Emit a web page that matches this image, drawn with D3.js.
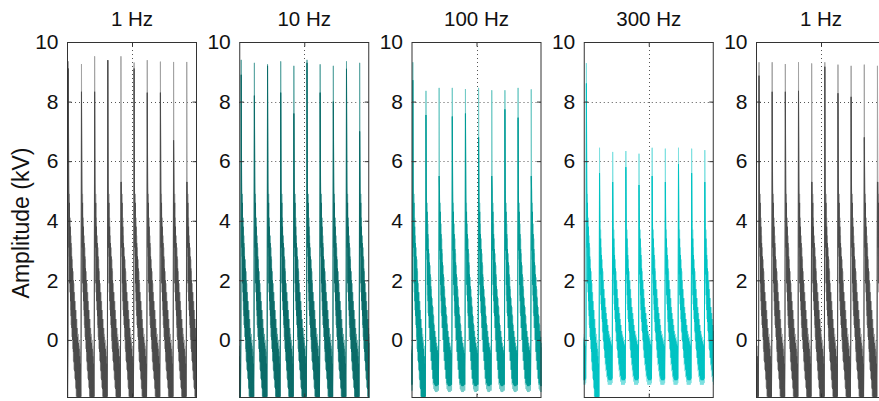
<!DOCTYPE html>
<html><head><meta charset="utf-8">
<script src="https://cdn.jsdelivr.net/npm/d3@7"></script>
<style>body{margin:0;background:#fff}svg{display:block}</style>
</head><body>
<svg id="c" width="879" height="401"></svg>
<script>
// ---------------- data ----------------
const titles = ["1 Hz", "10 Hz", "100 Hz", "300 Hz", "1 Hz"];
const yTickValues = [0, 2, 4, 6, 8, 10];
const yLabel = "Amplitude (kV)";
// pulse phase (in periods) of the first spike in each panel
const phase = [0.1, 0.15, 0.1, 0.2, 0.23];

// spike peak values (kV): light (background) trace and dark (foreground) trace
const peaksLight1   = [9.35, 9.26, 9.52, 9.39, 9.52, 9.31, 9.39, 9.34, 9.33, 9.33];
const peaksDark1    = [9.11, 8.33, 8.33, 9.39, 5.30, 9.11, 8.30, 8.30, 6.70, 5.30];
const peaksLight10  = [9.40, 9.30, 9.25, 9.35, 9.20, 9.40, 9.25, 9.20, 9.35, 9.30];
const peaksDark10   = [8.90, 8.20, 9.20, 8.30, 7.60, 9.30, 8.30, 8.00, 9.10, 7.00];
const peaksLight100 = [9.32, 8.36, 8.46, 8.46, 8.42, 8.46, 8.38, 8.38, 8.46, 8.41];
const peaksDark100  = [8.72, 7.55, 5.50, 7.50, 7.60, 6.80, 5.50, 7.74, 7.46, 5.50];
const peaksLight300 = [9.29, 6.45, 6.31, 6.34, 6.25, 6.45, 6.42, 6.45, 6.42, 6.37];
const peaksDark300  = [8.61, 5.60, 5.30, 5.80, 5.20, 5.50, 5.30, 5.90, 5.60, 5.30];
const peaksLight1b  = [9.32, 9.32, 9.26, 9.32, 9.28, 9.32, 9.24, 9.20, 9.24, 9.20];
const peaksDark1b   = [8.87, 8.33, 8.33, 8.36, 5.30, 9.17, 8.28, 8.16, 6.80, 5.30];

const tailDark1 = [5.3, 3.1, 4.6, 1.9, 3.8, 1.3, 3.25, 0.8, 2.8, 0.4, 2.4, 0.0, 2.0, -0.4, 1.6, -0.75, 1.3, -1.05,
  1.0, -1.35, 0.7, -1.65, 0.4, -1.9, 0.1, -1.95, -0.1, -1.95, -0.3, -1.95, -0.55, -1.95, -0.8, -1.9, 0.05];
const tailLight1 = [5.4, 2.8, 4.9, 1.6, 4.1, 1.0, 3.5, 0.5, 3.1, 0.1, 2.7, -0.3, 2.3, -0.7, 1.9, -1.0, 1.6, -1.3,
  1.3, -1.6, 1.0, -1.9, 0.7, -2.0, 0.4, -2.0, 0.2, -2.0, 0.0, -2.0, -0.2, -2.0, -0.4, -2.0, 0.2];
const tailDark100 = [5.0, 3.0, 4.3, 1.85, 3.55, 1.3, 3.05, 0.8, 2.6, 0.4, 2.2, 0.0, 1.8, -0.4, 1.45, -0.7, 1.15, -1.0,
  0.85, -1.3, 0.55, -1.45, 0.3, -1.5, 0.1, -1.55, -0.1, -1.55, -0.25, -1.55, -0.35, -1.5, -0.45, -1.5, 0.05];
const tailLight100 = [5.2, 2.7, 4.6, 1.5, 3.9, 0.9, 3.4, 0.4, 2.9, 0.0, 2.5, -0.4, 2.1, -0.7, 1.7, -1.0, 1.4, -1.3,
  1.1, -1.5, 0.8, -1.65, 0.5, -1.7, 0.3, -1.75, 0.1, -1.75, -0.1, -1.75, -0.2, -1.7, -0.3, -1.7, 0.2];
const tailDark300 = [3.8, 2.2, 3.4, 1.5, 2.85, 1.0, 2.4, 0.6, 2.0, 0.25, 1.7, -0.05, 1.4, -0.35, 1.1, -0.6, 0.9, -0.8,
  0.7, -1.0, 0.5, -1.2, 0.3, -1.3, 0.15, -1.35, 0.05, -1.35, -0.05, -1.35, -0.15, -1.35, -0.2, -1.3, 0.05];
const tailLight300 = [4.0, 1.9, 3.7, 1.2, 3.1, 0.7, 2.7, 0.3, 2.3, 0.0, 2.0, -0.3, 1.7, -0.6, 1.4, -0.85, 1.1, -1.05,
  0.9, -1.25, 0.7, -1.4, 0.5, -1.5, 0.3, -1.5, 0.2, -1.5, 0.1, -1.5, 0.0, -1.5, -0.1, -1.45, 0.2];

const panelPeaksLight = [peaksLight1, peaksLight10, peaksLight100, peaksLight300, peaksLight1b];
const panelPeaksDark  = [peaksDark1, peaksDark10, peaksDark100, peaksDark300, peaksDark1b];
const panelTailLight  = [tailLight1, tailLight1, tailLight100, tailLight300, tailLight1];
const panelTailDark   = [tailDark1, tailDark1, tailDark100, tailDark300, tailDark1];
// first spike of the 100 Hz and 300 Hz trains rings like the 1 Hz ones
const panelFirstLight = [null, null, tailLight1, tailLight1, null];
const panelFirstDark  = [null, null, tailDark1, tailDark1, null];

// ---------------- styles ----------------
const colorDark  = ["#4b4b4b", "#0c6c69", "#009b96", "#00c3c3", "#4b4b4b"];
const colorLight = ["#a3a3a3", "#5ea7a4", "#74cbc7", "#7ee0e0", "#a3a3a3"];

// ---------------- layout ----------------
const svg = d3.select("#c");
const font = "'Liberation Sans', Arial, Helvetica, sans-serif";
const topY = 42, bottomY = 398, pw = 130, left0 = 67, step = 172.25;
const y = d3.scaleLinear().domain([-1.95, 10]).range([bottomY, topY]);
const nPeriods = 9.88;

function buildSeries(peaks, tail, firstTail, ph) {
  const pts = [];
  const n = tail.length + 1;
  for (let k = -1; k < peaks.length; k++) {
    const t0 = ph + k;
    const pk = k < 0 ? peaks[peaks.length - 1] : peaks[k];
    const tl = (k === 0 && firstTail) ? firstTail : tail;
    pts.push([t0, pk]);
    tl.forEach((v, i) => pts.push([t0 + (i + 1) / n, v]));
  }
  return pts;
}

const defs = svg.append("defs");

titles.forEach((title, p) => {
  const x0 = left0 + p * step;
  const x = d3.scaleLinear().domain([0, nPeriods]).range([x0, x0 + pw]);
  const g = svg.append("g");

  defs.append("clipPath").attr("id", "clip" + p)
    .append("rect").attr("x", x0).attr("y", topY).attr("width", pw).attr("height", bottomY - topY);

  // grid
  const grid = g.append("g").attr("stroke", "#555").attr("stroke-width", 1)
    .attr("stroke-dasharray", "1,3");
  yTickValues.filter(v => v < 10).forEach(v => {
    grid.append("line").attr("x1", x0).attr("x2", x0 + pw)
      .attr("y1", Math.round(y(v)) + 0.5).attr("y2", Math.round(y(v)) + 0.5);
  });
  grid.append("line").attr("x1", Math.round(x(nPeriods / 2)) + 0.5).attr("x2", Math.round(x(nPeriods / 2)) + 0.5)
    .attr("y1", topY).attr("y2", bottomY);

  // data
  const line = d3.line().x(d => x(d[0])).y(d => y(d[1]));
  const dg = g.append("g").attr("clip-path", `url(#clip${p})`);
  dg.append("path")
    .datum(buildSeries(panelPeaksLight[p], panelTailLight[p], panelFirstLight[p], phase[p]))
    .attr("d", line).attr("fill", "none").attr("stroke", colorLight[p]).attr("stroke-width", 1);
  dg.append("path")
    .datum(buildSeries(panelPeaksDark[p], panelTailDark[p], panelFirstDark[p], phase[p]))
    .attr("d", line).attr("fill", "none").attr("stroke", colorDark[p]).attr("stroke-width", 1);

  // box
  g.append("rect").attr("x", x0 + 0.5).attr("y", topY + 0.5).attr("width", pw - 1).attr("height", bottomY - topY - 1)
    .attr("fill", "none").attr("stroke", "#333").attr("stroke-width", 1);

  // y axis (left) with inward ticks
  const axL = d3.axisLeft(y).tickValues(yTickValues).tickSizeInner(-4).tickSizeOuter(0).tickPadding(9)
    .tickFormat(d3.format("d"));
  const gl = g.append("g").attr("transform", `translate(${x0 + 0.5},0)`).call(axL);
  gl.select(".domain").remove();
  gl.selectAll(".tick line").attr("stroke", "#333");
  gl.selectAll(".tick text").attr("font-family", font).attr("font-size", 21).attr("fill", "#111");

  const axR = d3.axisRight(y).tickValues(yTickValues).tickSizeInner(-4).tickSizeOuter(0).tickFormat("");
  const gr = g.append("g").attr("transform", `translate(${x0 + pw - 0.5},0)`).call(axR);
  gr.select(".domain").remove();
  gr.selectAll(".tick line").attr("stroke", "#333");

  // x ticks at the middle (no labels)
  const axB = d3.axisBottom(x).tickValues([nPeriods / 2]).tickSizeInner(-4).tickSizeOuter(0).tickFormat("");
  const gb = g.append("g").attr("transform", `translate(0,${bottomY - 0.5})`).call(axB);
  gb.select(".domain").remove();
  gb.selectAll(".tick line").attr("stroke", "#333");
  const axT = d3.axisTop(x).tickValues([nPeriods / 2]).tickSizeInner(-4).tickSizeOuter(0).tickFormat("");
  const gt = g.append("g").attr("transform", `translate(0,${topY + 0.5})`).call(axT);
  gt.select(".domain").remove();
  gt.selectAll(".tick line").attr("stroke", "#333");

  // title
  g.append("text").attr("x", x0 + pw / 2).attr("y", 26).attr("text-anchor", "middle")
    .attr("font-family", font).attr("font-size", 20.5).attr("fill", "#111").text(title);
});

// y label
svg.append("text").attr("transform", `translate(29,223) rotate(-90)`).attr("text-anchor", "middle")
  .attr("font-family", font).attr("font-size", 23).attr("fill", "#111").text(yLabel);
</script>
</body></html>
